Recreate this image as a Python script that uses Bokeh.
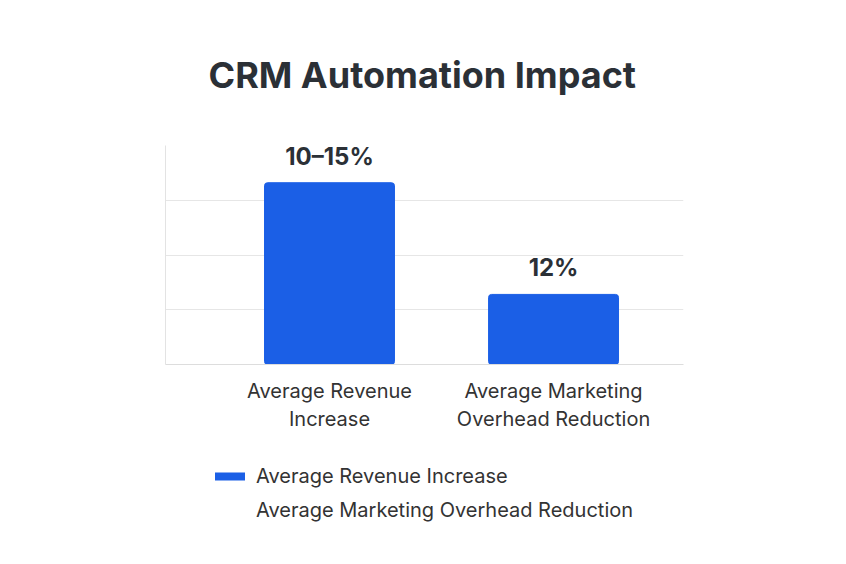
from bokeh.plotting import figure
from bokeh.layouts import column
from bokeh.models import Legend, LegendItem, FixedTicker, Range1d, ColumnDataSource
from bokeh.core.properties import value
from bokeh.embed import file_html
from bokeh.resources import INLINE

categories = ["Average Revenue Increase", "Average Marketing Overhead Reduction"]
tick_labels = ["Average Revenue\nIncrease", "Average Marketing\nOverhead Reduction"]
values = [16.6, 6.4]
value_labels = ["10\u201315%", "12%"]
y_ticks = [0, 5, 10, 15, 20]

FONT = "Inter"
BLUE = "#1b5fe6"
DARK = "#2b3036"

xs = list(range(len(categories)))
src = ColumnDataSource(dict(x=xs, top=values, lab=value_labels, cat=categories))

p = figure(width=830, height=440, output_backend="svg", toolbar_location=None,
           x_range=Range1d(-0.732, 1.58), y_range=Range1d(0, 20),
           min_border_left=165, min_border_right=147, min_border_top=145, min_border_bottom=76,
           title="CRM Automation Impact")
p.title.text_font = FONT
p.title.text_font_size = "36px"
p.title.text_font_style = "bold"
p.title.text_color = DARK
p.title.align = "left"
p.title.offset = 43
p.title.standoff = 98
p.outline_line_color = None
p.background_fill_color = "white"
p.border_fill_color = "white"

bars = p.vbar(x="x", top="top", width=0.58, bottom=0, source=src, color=BLUE, border_radius=3)

p.text(x="x", y="top", text="lab", source=src, text_align="center", text_baseline="bottom",
       y_offset=-12, text_font=value(FONT), text_font_size="24px", text_color=DARK,
       text_font_style="bold")

p.xaxis.ticker = FixedTicker(ticks=xs)
p.xaxis.major_label_overrides = {i: t for i, t in zip(xs, tick_labels)}
p.xaxis.major_label_text_font = FONT
p.xaxis.major_label_text_font_size = "20px"
p.xaxis.major_label_text_color = "#333333"
p.xaxis.major_tick_line_color = None
p.xaxis.minor_tick_line_color = None
p.xaxis.axis_line_color = "#dddddd"
p.xaxis.major_label_standoff = 8

p.yaxis.ticker = FixedTicker(ticks=[])
p.yaxis.major_tick_line_color = None
p.yaxis.minor_tick_line_color = None
p.yaxis.axis_line_color = "#e3e3e3"
p.yaxis.major_label_standoff = 0
p.xgrid.grid_line_color = None
p.ygrid.ticker = FixedTicker(ticks=y_ticks)
p.ygrid.grid_line_color = "#e6e6e6"

# legend panel below the chart (frame aligned with the chart's frame)
q = figure(width=830, height=108, output_backend="svg", toolbar_location=None,
           x_range=Range1d(0, 1), y_range=Range1d(0, 1),
           x_axis_location=None, y_axis_location=None,
           min_border_left=165, min_border_right=147, min_border_top=0, min_border_bottom=0)
q.grid.visible = False
q.outline_line_color = None
q.background_fill_color = "white"
q.border_fill_color = "white"
sw1 = q.line(x=[-5, -4], y=[-5, -5], line_color=BLUE, line_width=8, line_cap="round")
sw2 = q.line(x=[-5, -4], y=[-5, -5], line_alpha=0)

legend = Legend(items=[LegendItem(label=categories[0], renderers=[sw1]),
                       LegendItem(label=categories[1], renderers=[sw2])],
                location=(50, 26), orientation="vertical",
                glyph_width=30, glyph_height=24, label_height=24, spacing=10,
                label_standoff=11, padding=0, margin=0,
                border_line_color=None, background_fill_alpha=0,
                label_text_font=FONT, label_text_font_size="20px", label_text_color="#333333")
q.add_layout(legend, "center")

layout = column(p, q, spacing=0)
open("out.html", "w").write(file_html(layout, INLINE))
